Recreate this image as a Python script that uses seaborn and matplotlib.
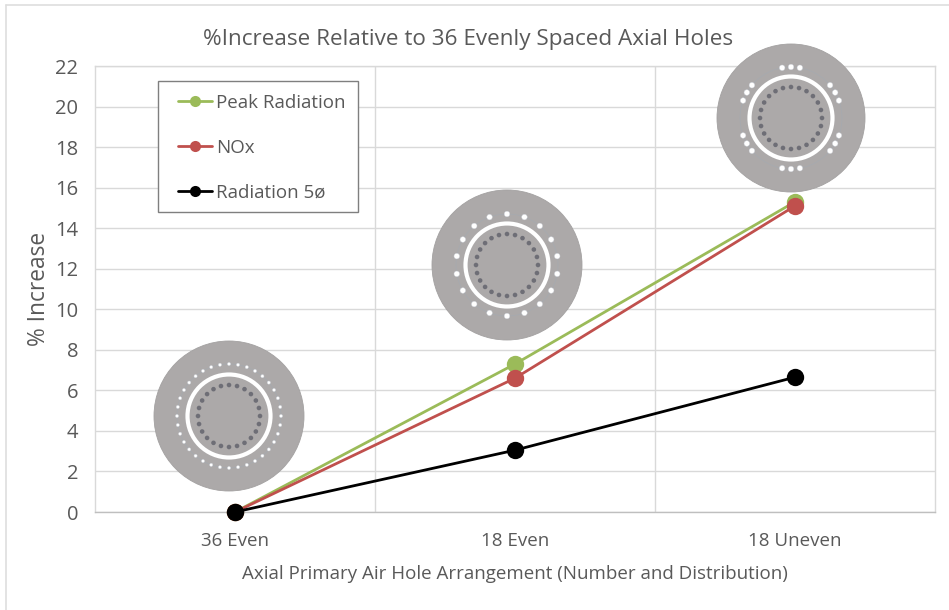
import matplotlib
matplotlib.use("Agg")

import matplotlib.pyplot as plt
import numpy as np
import pandas as pd
import seaborn as sns
from matplotlib.lines import Line2D
from matplotlib.patches import Circle, Rectangle

arrangements = ["36 Even", "18 Even", "18 Uneven"]
peak_radiation = [0.0, 7.3, 15.3]
nox = [0.0, 6.6, 15.1]
radiation_5 = [0.0, 3.05, 6.65]
series_names = ["Peak Radiation", "NOx", "Radiation 5ø"]
series_colors = ["#9BBB59", "#C0504D", "#000000"]
y_ticks = list(range(0, 23, 2))

W, H = 949, 610
TEXT = "#595959"

sns.set_theme(style="white")
plt.rcParams["font.family"] = ["Open Sans", "DejaVu Sans"]

df = pd.DataFrame({"arrangement": arrangements, "Peak Radiation": peak_radiation,
                   "NOx": nox, "Radiation 5ø": radiation_5})
long_df = df.melt(id_vars="arrangement", var_name="series", value_name="increase")

fig = plt.figure(figsize=(W / 100, H / 100), dpi=100, facecolor="white")
ax = fig.add_axes([95 / W, 1 - 512 / H, 840 / W, 446 / H])

sns.lineplot(data=long_df, x="arrangement", y="increase", hue="series", hue_order=series_names,
             palette=series_colors, marker="o", markersize=12.5, markeredgewidth=0, linewidth=2,
             sort=False, ax=ax, zorder=3, clip_on=False)

ax.set_xlim(-0.5, 2.5)
ax.set_ylim(0, 22)
ax.set_yticks(y_ticks)
ax.grid(True, axis="y", color="#D9D9D9", linewidth=1)
ax.set_xticks([0.5, 1.5], minor=True)
ax.grid(True, axis="x", which="minor", color="#D9D9D9", linewidth=1)
ax.tick_params(axis="x", which="minor", length=0)
ax.set_axisbelow(True)
ax.tick_params(axis="y", labelsize=14.5, labelcolor=TEXT, length=0, pad=12)
ax.tick_params(axis="x", labelsize=13.5, labelcolor=TEXT, length=0, pad=14.5)
for side, spine in ax.spines.items():
    spine.set_color("#D9D9D9")
    spine.set_linewidth(1)
ax.spines["bottom"].set_color("#BFBFBF")

ax.set_xlabel("Axial Primary Air Hole Arrangement (Number and Distribution)",
              fontsize=13.5, color=TEXT, labelpad=11)
ax.set_ylabel("% Increase", fontsize=16.4, color=TEXT, labelpad=3)
fig.text(468 / W, 1 - 39 / H, "%Increase Relative to 36 Evenly Spaced Axial Holes",
         fontsize=16.2, color=TEXT, ha="center", va="center")

# faint frame of the pasted picture
fig.add_artist(Line2D([6 / W, 6 / W], [0, 1 - 5 / H], color="#DEDEDE", lw=1.2))
fig.add_artist(Line2D([6 / W, 1], [1 - 5 / H, 1 - 5 / H], color="#DEDEDE", lw=1.2))

# legend box drawn apart so its padding can differ from the entry spacing
ax.add_patch(Rectangle((158 / W, 1 - 212 / H), 200 / W, 131 / H, transform=fig.transFigure,
                       fc="white", ec="#7F7F7F", lw=1, zorder=4, clip_on=False))
handles, labels = ax.get_legend_handles_labels()
leg = ax.legend(handles, labels, loc="upper left", bbox_to_anchor=((178 - 95) / 840, 1 - (94 - 66) / 446),
                borderaxespad=0, frameon=False, fontsize=13.5, labelcolor=TEXT, labelspacing=1.43,
                handlelength=1.8, handletextpad=0.25, borderpad=0)
leg.set_zorder(4.5)
for line in leg.get_lines():
    line.set_markersize(8)


def draw_disc(cx, cy, radius, outer_angles, outer_r, hole_size):
    """One combustor cross-section, centred at pixel (cx, cy)."""
    d = fig.add_axes([(cx - radius - 1) / W, 1 - (cy + radius + 1) / H,
                      (2 * radius + 2) / W, (2 * radius + 2) / H], zorder=5)
    d.set_xlim(-(radius + 1), radius + 1)
    d.set_ylim(-(radius + 1), radius + 1)
    d.axis("off")
    d.patch.set_alpha(0)
    d.add_patch(Circle((0, 0), radius, fc="#ACA9A9", ec="#A3A1A1", lw=0.6))
    d.add_patch(Circle((0, 0), outer_r, fc="none", ec="#A6A9B0", lw=0.5))
    d.add_patch(Circle((0, 0), 41.5, fc="none", ec="#FFFFFF", lw=3))
    for a in outer_angles:
        t = np.radians(a)
        d.add_patch(Circle((outer_r * np.cos(t), outer_r * np.sin(t)), hole_size,
                           fc="#FFFFFF", ec="#C9CDD4", lw=0.3))
    for a in np.arange(0, 360, 15):
        t = np.radians(a)
        d.add_patch(Circle((31 * np.cos(t), 31 * np.sin(t)), 2.3, fc="#6E6E76", ec="none"))


even_36 = np.arange(0, 360, 10)
even_18 = np.arange(0, 360, 20) + 10
uneven_18 = np.concatenate([c + np.array([-10, 0, 10]) for c in (30, 90, 150, 210, 270, 330)])

draw_disc(229, 416, 75, even_36, 52, 1.6)
draw_disc(507, 265, 75, even_18, 51, 2.8)
draw_disc(791, 118, 74, uneven_18, 51, 2.8)

fig.savefig("out.png", dpi=100)
